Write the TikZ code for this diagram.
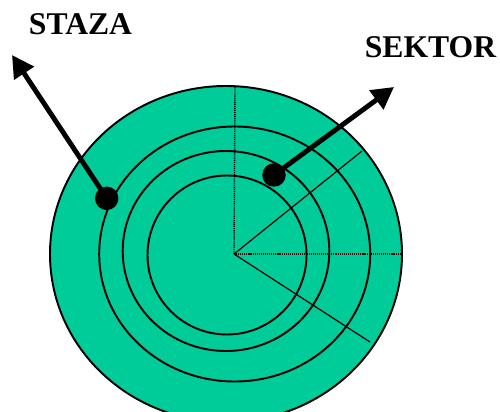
\documentclass[tikz,border=0pt]{standalone}
\usepackage{fontspec}
\setmainfont{Liberation Serif}
\usetikzlibrary{arrows.meta}
\definecolor{DiskGreen}{RGB}{0,204,153}

\begin{document}
\begin{tikzpicture}[x=0.02cm, y=-0.02cm,
                    ring/.style={line width=1.1pt},
                    spoke/.style={line width=0.7pt},
                    dotspoke/.style={line width=0.8pt, dash pattern=on 0.6pt off 0.5pt},
                    pointer/.style={line width=2.8pt, -{Triangle[length=12.5pt, width=13pt]}},
                    dot/.style={circle, fill=black, inner sep=0pt, minimum size=0.47cm},
                    tag/.style={font=\bfseries\fontsize{18}{20}\selectfont}]
                    \useasboundingbox (0,0) rectangle (500,412);
                    % disk and tracks
                    \draw[ring, fill=DiskGreen] (226,254) ellipse [x radius=176, y radius=168];
                    \coordinate (hub) at (234,254);
                    \draw[dotspoke] (hub) -- (235,86);
                    \draw[dotspoke] (hub) -- (402,254);
                    \draw[spoke] (hub) -- (362,151);
                    \draw[spoke] (hub) -- (370,342);
                    \draw[ring] (234.7,254) ellipse [x radius=135.5, y radius=127.5];
                    \draw[ring] (226,251) ellipse [x radius=103.3, y radius=100];
                    \draw[ring] (227,255) circle [radius=79.5];
                    % labels and pointers
                    \node[tag] (staza) at (80.5,24) {STAZA};
                    \node[tag] (sektor) at (430.5,47) {SEKTOR};
                    \node[dot] (track) at (106.7,198.3) {};
                    \node[dot] (sector) at (274,175) {};
                    \coordinate (trackend) at (12,55);
                    \coordinate (sectorend) at (394,87);
                    \draw[pointer] (track.center) -- (trackend);
                    \draw[pointer] (sector.center) -- (sectorend);
                \end{tikzpicture}
\end{document}
